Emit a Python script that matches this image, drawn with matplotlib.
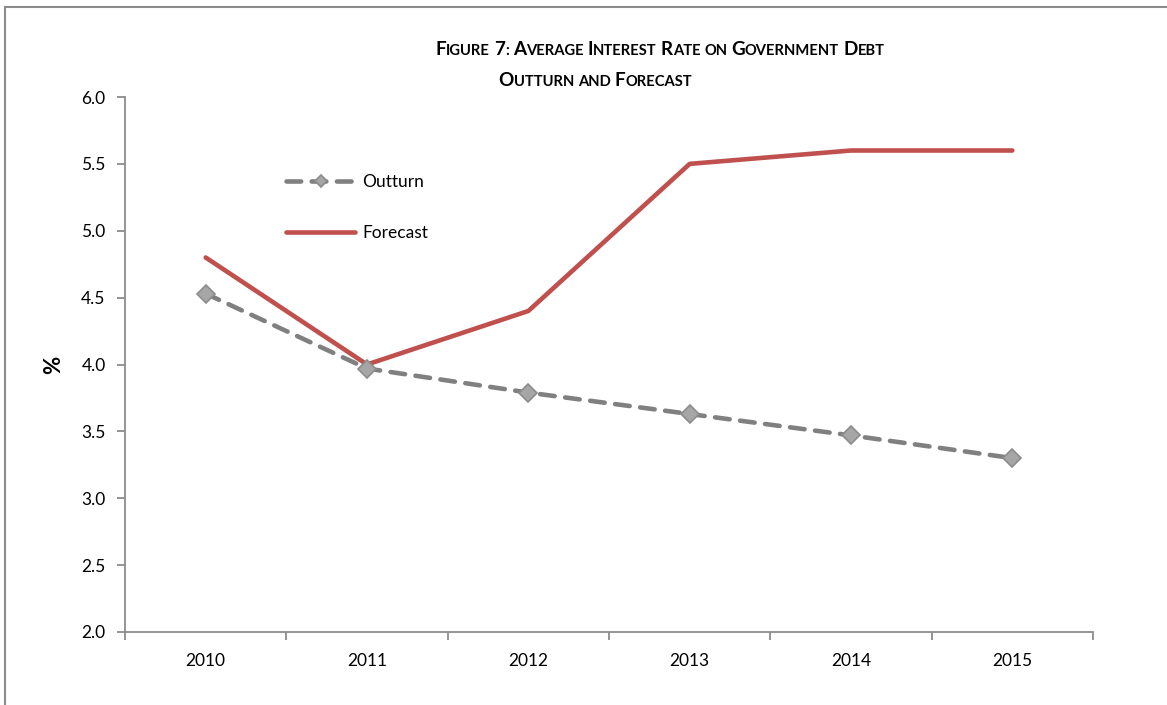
import matplotlib
matplotlib.use('Agg')
import matplotlib.pyplot as plt
from matplotlib.lines import Line2D

years = ['2010', '2011', '2012', '2013', '2014', '2015']
outturn = [4.53, 3.97, 3.79, 3.63, 3.47, 3.30]
forecast = [4.8, 4.0, 4.4, 5.5, 5.6, 5.6]

plt.rcParams['font.family'] = ['Lato', 'DejaVu Sans']

W, H = 1167, 705
fig = plt.figure(figsize=(W / 100, H / 100), dpi=100)
ax = fig.add_axes([125 / W, 1 - 632 / H, (1093 - 125) / W, (632 - 97) / H])

x = list(range(len(years)))
ax.plot(x, forecast, color='#C0504D', lw=3.3, solid_capstyle='round', label='Forecast', zorder=3)
ax.plot(x, outturn, color='#808080', lw=3.3, dashes=(3.2, 2.3), dash_capstyle='round',
        marker='D', markersize=9, markerfacecolor='#A6A6A6', markeredgecolor='#8C8C8C',
        markeredgewidth=1.2, label='Outturn', zorder=4)

ax.set_xlim(-0.5, 5.5)
ax.set_ylim(2.0, 6.0)
ax.set_yticks([2.0, 2.5, 3.0, 3.5, 4.0, 4.5, 5.0, 5.5, 6.0])
ax.set_yticklabels(['%.1f' % v for v in ax.get_yticks()])
ax.set_xticks(x)
ax.set_xticklabels(years)
ax.set_xticks([i - 0.5 for i in range(len(years) + 1)], minor=True)
ax.tick_params(axis='x', which='major', length=0, pad=15, labelsize=12.5)
ax.tick_params(axis='x', which='minor', length=6, width=1.3, color='#8C8C8C', direction='out')
ax.tick_params(axis='y', length=6, width=1.3, color='#8C8C8C', labelsize=12.5, pad=8)
for s in ['top', 'right']:
    ax.spines[s].set_visible(False)
for s in ['left', 'bottom']:
    ax.spines[s].set_color('#8C8C8C')
    ax.spines[s].set_linewidth(1.3)
ax.set_ylabel('%', fontsize=16, fontweight='bold', labelpad=12)

handles, labels = ax.get_legend_handles_labels()
leg = ax.legend(handles[::-1], labels[::-1], loc='upper left', bbox_to_anchor=(286 / W, 1 - 174 / H),
                bbox_transform=fig.transFigure, frameon=False, fontsize=12.5, handlelength=4.0,
                handletextpad=0.4, labelspacing=2.0, borderpad=0, borderaxespad=0)
for h in leg.legend_handles:
    h.set_markersize(6)

# small-caps title: first letter of each word large, rest smaller; lowercase words all small
def place_line(words, ybase, cx):
    r = fig.canvas.get_renderer()
    pieces = []
    for w in words.split(' '):
        if w.islower():
            pieces.append((w.upper(), 10.6))
        else:
            pieces.append((w[0], 13.6))
            if len(w) > 1:
                pieces.append((w[1:], 10.6))
        pieces.append((' ', 10.6))
    pieces = pieces[:-1]
    texts = [fig.text(0, 1 - ybase / H, s, fontsize=fs, fontweight='bold', va='baseline', ha='left')
             for s, fs in pieces]
    widths = []
    for t in texts:
        if t.get_text() == ' ':
            widths.append(fig.dpi * t.get_fontsize() / 72 * 0.27)
        else:
            widths.append(t.get_window_extent(r).width)
    total = sum(widths)
    xp = cx - total / 2
    for t, wd in zip(texts, widths):
        t.set_x(xp / W)
        xp += wd

fig.canvas.draw()
place_line('FIGURE 7: AVERAGE INTEREST RATE on GOVERNMENT DEBT', 55, 660)
place_line('OUTTURN and FORECAST', 86, 595)

# chart border
fig.add_artist(Line2D([5 / W, 5 / W], [0, 1 - 7 / H], transform=fig.transFigure, color='#8C8C8C', lw=1.5))
fig.add_artist(Line2D([5 / W, 1], [1 - 7 / H, 1 - 7 / H], transform=fig.transFigure, color='#8C8C8C', lw=1.5))

fig.savefig('out.png', dpi=100)
